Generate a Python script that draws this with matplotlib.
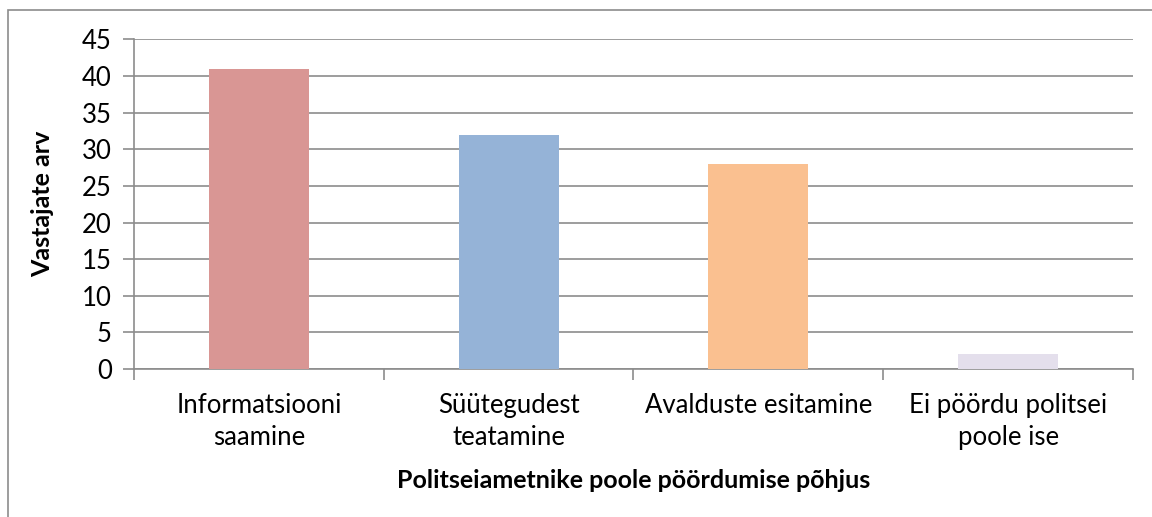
import matplotlib.pyplot as plt
from matplotlib.patches import Rectangle

categories = ["Informatsiooni\nsaamine", "Süütegudest\nteatamine",
              "Avalduste esitamine", "Ei pöördu politsei\npoole ise"]
values = [41, 32, 28, 2]
colors = ["#D99694", "#95B3D7", "#FAC090", "#E4DFEC"]
yticks = list(range(0, 50, 5))

plt.rcParams["font.family"] = ["Lato", "DejaVu Sans"]

fig = plt.figure(figsize=(11.52, 5.17), dpi=100)
ax = fig.add_axes([0.1163, 0.2863, 0.8672, 0.6373])

# outer chart border (only left and top visible in the crop)
fig.patches.append(Rectangle((8 / 1152, -0.1), 1.2, 1 - 10 / 517 + 0.1,
                             transform=fig.transFigure, fill=False,
                             edgecolor="#8c8c8c", linewidth=1.2))

x = list(range(len(categories)))
ax.bar(x, values, width=0.4, color=colors, zorder=3)

ax.set_xlim(-0.5, len(categories) - 0.5)
ax.set_ylim(0, 45)
ax.set_yticks(yticks)
ax.yaxis.grid(True, color="#8c8c8c", linewidth=1.2, zorder=0)

# category labels between boundary ticks
ax.set_xticks([i - 0.5 for i in range(len(categories) + 1)])
ax.set_xticklabels([])
ax.set_xticks(x, minor=True)
ax.set_xticklabels(categories, minor=True, fontsize=18.5, linespacing=1.35)
ax.tick_params(axis="x", which="minor", length=0, pad=17)
ax.tick_params(axis="x", which="major", length=8, width=1.2, color="#8c8c8c", direction="out")
ax.tick_params(axis="y", length=8, width=1.2, color="#8c8c8c", labelsize=18.5, pad=8)

for side in ["top", "right"]:
    ax.spines[side].set_visible(False)
for side in ["left", "bottom"]:
    ax.spines[side].set_color("#8c8c8c")
    ax.spines[side].set_linewidth(1.2)

ax.set_ylabel("Vastajate arv", fontsize=18, fontweight="bold", labelpad=20)
ax.set_xlabel("Politseiametnike poole pöördumise põhjus", fontsize=18,
              fontweight="bold", labelpad=14)

fig.savefig("out.png", dpi=100)
